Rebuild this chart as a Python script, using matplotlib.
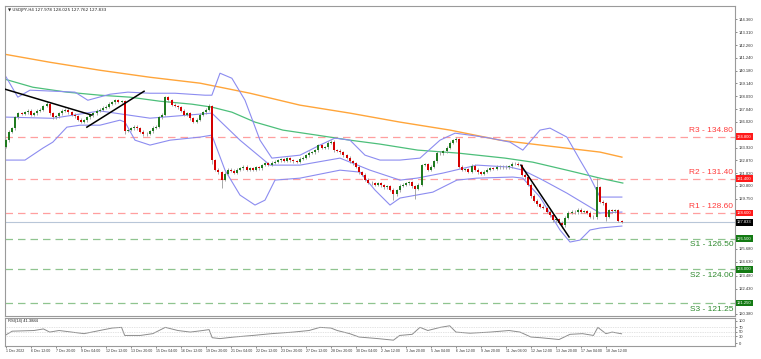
import numpy as np
import matplotlib.pyplot as plt
from matplotlib.transforms import blended_transform_factory

# USDJPY H4 closes, one per bar
closes = [
    134.5, 135.2, 135.5, 136.4, 136.7, 136.65, 136.8, 136.9,
    136.6, 136.7, 136.9, 137.0, 137.3, 137.5, 136.7, 136.4,
    136.45, 136.7, 136.9, 137.0, 136.8, 136.6, 136.45, 136.2,
    136.0, 136.15, 136.4, 136.55, 136.7, 136.9, 137.0, 137.15,
    137.25, 137.5, 137.6, 137.75, 137.65, 137.7, 135.3, 135.35,
    135.5, 135.6, 135.5, 135.2, 135.0, 135.05, 135.25, 135.55,
    135.6, 136.4, 136.6, 138.0, 137.75, 137.4, 137.3, 137.2,
    136.9, 136.6, 136.7, 136.3, 136.0, 136.2, 136.6, 136.8,
    137.0, 137.3, 132.9, 132.1, 131.9, 131.3, 131.8, 132.1,
    132.05, 131.85, 132.1, 132.25, 132.35, 132.1, 132.25, 132.1,
    132.3, 132.25, 132.5, 132.65, 132.5, 132.7, 132.75, 132.9,
    132.95, 132.85, 133.05, 132.9, 132.8, 132.75, 133.0, 133.1,
    133.3, 133.5, 133.55, 133.7, 134.1, 133.9, 133.95, 134.3,
    134.4, 133.7, 133.65, 133.55, 133.3, 133.1, 132.8, 132.65,
    132.35, 131.9, 131.7, 131.3, 131.05, 131.0, 130.9, 131.0,
    130.85, 130.7, 130.75, 130.5, 130.1, 130.45, 130.8, 130.9,
    131.0, 131.1, 130.75, 130.55, 130.9, 132.5, 132.55, 132.1,
    132.35, 132.8, 133.5, 133.45, 133.6, 133.9, 134.3, 134.5,
    134.6, 132.35, 132.1, 132.15, 131.95, 132.45, 132.1, 131.9,
    131.8, 131.95, 132.1, 132.25, 132.2, 132.35, 132.3, 132.35,
    132.3, 132.4, 132.6, 132.6, 132.5, 131.7, 131.5, 130.9,
    130.0, 129.6, 129.3, 129.1, 129.0, 128.7, 128.4, 128.0,
    128.1, 127.8, 127.6, 128.2, 128.6, 128.7, 128.65, 128.85,
    128.7, 128.75, 128.6, 128.3, 128.25, 130.7, 129.5, 129.4,
    128.3, 128.8, 128.75, 128.8, 127.978, 127.833,
]
first_open = 134.0
last_open = 127.978
wick = 0.12
highs_seen = {13: 137.7, 35: 137.9, 51: 138.15, 65: 137.45, 104: 134.55,
              144: 134.75, 189: 131.45, 197: 128.025}
lows_seen = {0: 133.9, 38: 135.0, 66: 132.6, 69: 130.6, 124: 129.65,
             131: 129.7, 168: 129.8, 178: 127.35, 192: 127.95, 197: 127.762}

# indicator lines read at a few bars: (bar, price)
ma_slow_bar = [-0.3, 14.1, 30.1, 46.1, 62.1, 78.1, 94.1, 110.1, 126.1, 142.1, 158.1, 174.1, 190.1, 197.1]
ma_slow = [141.51, 140.86, 140.21, 139.64, 139.16, 138.34, 137.37, 136.72, 135.99, 135.34, 134.52, 134.03, 133.55, 133.14]
ma_fast_bar = [-0.3, 8.6, 19.5, 30.1, 39.7, 49.3, 59.5, 65.9, 72.3, 79.7, 88.6, 99.5, 110.1, 119.7, 131.8, 144.6, 159.7, 168.6, 179.5, 190.1, 197.4]
ma_fast = [139.48, 138.83, 138.43, 138.18, 138.02, 137.69, 137.45, 137.21, 136.8, 135.99, 135.34, 134.93, 134.52, 134.2, 133.71, 133.47, 133.06, 132.73, 132.08, 131.43, 131.03]

bb_up_bar = [-0.3, 3.8, 7.7, 22.1, 26.2, 33.3, 39.0, 46.1, 54.1, 63.7, 65.9, 68.5, 72.3, 76.5, 81.3, 85.1, 94.1, 100.5, 105.3, 110.1, 114.9, 119.7, 126.1, 132.5, 138.9, 143.7, 148.5, 154.9, 161.3, 165.4, 170.9, 174.1, 179.5, 183.7, 186.9, 190.1, 197.1]
bb_up = [139.81, 138.02, 138.59, 138.43, 137.77, 138.26, 138.43, 138.34, 138.34, 138.18, 138.18, 139.97, 139.56, 137.77, 134.52, 133.06, 133.3, 134.12, 134.69, 134.52, 133.3, 132.9, 132.9, 133.06, 134.52, 135.09, 134.93, 134.69, 134.36, 133.71, 135.34, 135.5, 134.77, 132.9, 131.52, 129.89, 129.89]
bb_mid_bar = [-0.3, 15.0, 30.1, 46.1, 65.9, 74.9, 84.5, 94.1, 106.9, 116.5, 126.1, 131.5, 139.8, 150.7, 161.3, 165.4, 171.8, 179.5, 186.9, 190.1, 197.1]
bb_mid = [136.4, 136.3, 136.9, 136.31, 136.72, 134.52, 132.49, 132.49, 133.06, 132.08, 131.27, 131.43, 131.84, 132.49, 132.33, 132.08, 131.27, 130.21, 129.08, 128.59, 128.67]
bb_lo_bar = [-0.3, 6.1, 11.8, 15.0, 19.5, 23.7, 30.1, 36.5, 38.1, 41.3, 46.1, 52.5, 62.1, 65.9, 70.1, 74.9, 79.7, 82.9, 86.1, 94.1, 106.9, 113.3, 118.1, 122.9, 126.1, 136.6, 144.3, 150.7, 162.2, 165.4, 170.9, 177.3, 180.5, 183.7, 186.9, 190.1, 197.1]
bb_lo = [132.9, 132.9, 133.87, 134.36, 135.58, 135.74, 135.74, 136.15, 135.99, 134.52, 134.12, 134.52, 134.77, 134.93, 132.08, 130.05, 129.24, 129.64, 131.27, 131.43, 132.08, 131.92, 130.46, 129.24, 129.81, 130.29, 131.27, 131.43, 131.52, 131.43, 129.89, 127.21, 126.23, 126.39, 127.21, 127.37, 127.53]

# hand-drawn trend lines: ((bar, price), (bar, price))
trend_lines = [((-0.3, 138.67), (27.5, 136.56)),
               ((25.9, 135.58), (44.2, 138.5)),
               ((164.8, 132.49), (180.2, 126.64))]

resist = [("R3", 134.80), ("R2", 131.40), ("R1", 128.60)]
support = [("S1", 126.50), ("S2", 124.00), ("S3", 121.25)]
last_price = 127.833

price_ticks = [144.36, 143.31, 142.26, 141.24, 140.18, 139.14, 138.09, 137.04, 136.02,
               133.92, 132.87, 131.82, 130.80, 129.75, 125.68, 124.63, 123.48, 122.43, 120.38]

rsi_bar = [-0.3, 2, 9, 12, 14, 17, 21, 25, 30, 34, 37, 38, 43, 47, 51, 55, 59, 63, 65, 66,
           68.5, 73, 79, 85, 92, 97, 100.5, 104, 106, 110, 113, 119, 124, 126, 130, 132.5,
           135, 139, 142, 144, 148.5, 155, 161, 164.5, 168, 171, 174, 177, 180.5, 184.5,
           188, 189.4, 192, 194, 197]
rsi = [34, 53, 56, 63, 49, 56, 49, 42, 56, 67, 70, 34, 34, 42, 70, 56, 49, 56, 60, 24,
       20, 27, 34, 42, 49, 56, 70, 67, 56, 42, 27, 20, 13, 34, 39, 70,
       56, 70, 77, 49, 44, 49, 56, 49, 27, 24, 20, 16, 39, 42,
       34, 70, 42, 49, 41.39]

date_labels = ["1 Dec 2022", "6 Dec 12:00", "7 Dec 20:00", "9 Dec 04:00", "12 Dec 12:00",
               "13 Dec 20:00", "15 Dec 04:00", "16 Dec 12:00", "19 Dec 20:00", "21 Dec 04:00",
               "22 Dec 12:00", "23 Dec 20:00", "27 Dec 12:00", "28 Dec 20:00", "30 Dec 04:00",
               "2 Jan 12:00", "3 Jan 20:00", "5 Jan 04:00", "6 Jan 12:00", "9 Jan 20:00",
               "11 Jan 04:00", "12 Jan 12:00", "13 Jan 20:00", "17 Jan 04:00", "18 Jan 12:00"]

plt.rcParams['font.family'] = ['Liberation Sans', 'DejaVu Sans']

fig = plt.figure(figsize=(7.61, 3.59), dpi=100)
ax = fig.add_axes([5 / 761, 1 - 316 / 359, 730 / 761, 310 / 359])
ax_rsi = fig.add_axes([5 / 761, 1 - 346 / 359, 730 / 761, 28 / 359])

n = len(closes)
bars = np.arange(n)
c = np.array(closes)
o = np.concatenate([[first_open], c[:-1]])
o[-1] = last_open
hi = np.maximum(o, c) + wick
lo = np.minimum(o, c) - wick
for k, v in highs_seen.items():
    hi[k] = v
for k, v in lows_seen.items():
    lo[k] = v

up = c >= o
ax.vlines(bars, lo, hi, color='#9a9a9a', lw=0.6, zorder=3)
ax.bar(bars[up], (c - o)[up], bottom=o[up], width=0.65, color='#1f7a1f', zorder=4)
ax.bar(bars[~up], (c - o)[~up], bottom=o[~up], width=0.65, color='#d40000', zorder=4)

ax.plot(ma_slow_bar, ma_slow, color='#ffa53a', lw=1.0, zorder=2)
ax.plot(ma_fast_bar, ma_fast, color='#4cbf7a', lw=0.9, zorder=2)
for xs, ys in [(bb_up_bar, bb_up), (bb_mid_bar, bb_mid), (bb_lo_bar, bb_lo)]:
    ax.plot(xs, ys, color='#8c8cf0', lw=0.8, zorder=2)
for (x0, y0), (x1, y1) in trend_lines:
    ax.plot([x0, x1], [y0, y1], color='black', lw=1.1, zorder=5)

ax.axhline(last_price, color='#b8c6d8', lw=0.8, zorder=1)
tr = blended_transform_factory(ax.transAxes, ax.transData)
for name, lvl in resist:
    ax.axhline(lvl, color='#ff9f9f', lw=0.9, dashes=(6, 4), zorder=1)
    ax.text(0.9975, lvl + 0.2, f"{name} - {lvl:.2f}", transform=tr, ha='right', va='bottom',
            color='#ff3c3c', fontsize=6)
    ax.text(1.003, lvl, f"{lvl:.3f}", transform=tr, ha='left', va='center', color='white',
            fontsize=3, bbox=dict(boxstyle='square,pad=0.3', fc='#ff1a1a', ec='none'),
            clip_on=False)
for name, lvl in support:
    ax.axhline(lvl, color='#8fc48f', lw=0.9, dashes=(6, 4), zorder=1)
    ax.text(0.9975, lvl - 0.2, f"{name} - {lvl:.2f}", transform=tr, ha='right', va='top',
            color='#2f8a2f', fontsize=6)
    ax.text(1.003, lvl, f"{lvl:.3f}", transform=tr, ha='left', va='center', color='white',
            fontsize=3, bbox=dict(boxstyle='square,pad=0.3', fc='#137a13', ec='none'),
            clip_on=False)
ax.text(1.003, last_price, f"{last_price:.3f}", transform=tr, ha='left', va='center',
        color='white', fontsize=3, bbox=dict(boxstyle='square,pad=0.3', fc='black', ec='none'),
        clip_on=False)

ax.set_xlim(-0.3, 233.3)
ax.set_ylim(120.21, 145.44)
ax.yaxis.tick_right()
ax.set_yticks(price_ticks)
ax.set_yticklabels([f"{t:.3f}" for t in price_ticks])
ax.tick_params(axis='y', labelsize=3, length=1.5, width=0.4, pad=1, colors='#333333')
ax.set_xticks([])
ax.text(0.004, 0.993, "\u25bc USDJPY,H4 127.978 128.025 127.762 127.833", transform=ax.transAxes,
        ha='left', va='top', fontsize=3, color='#222222', family=['DejaVu Sans'])

ax_rsi.plot(rsi_bar, rsi, color='#8c8c8c', lw=0.7)
for lvl in (70, 50, 30):
    ax_rsi.axhline(lvl, color='#c8c8c8', lw=0.5, ls=(0, (1, 1.5)))
ax_rsi.set_xlim(-0.3, 233.3)
ax_rsi.set_ylim(-12.9, 111.6)
ax_rsi.yaxis.tick_right()
ax_rsi.set_yticks([100, 70, 50, 30, 0])
ax_rsi.tick_params(axis='y', labelsize=3, length=1.5, width=0.4, pad=1, colors='#333333')
ax_rsi.set_xticks(np.arange(0, 8 * len(date_labels), 8))
ax_rsi.set_xticklabels(date_labels, ha='left')
ax_rsi.tick_params(axis='x', labelsize=2.6, length=1.5, width=0.4, pad=1, colors='#333333')
ax_rsi.text(0.004, 0.97, "RSI(14) 41.3884", transform=ax_rsi.transAxes, ha='left', va='top',
            fontsize=3, color='#222222')

for a in (ax, ax_rsi):
    for s in a.spines.values():
        s.set_color('#9a9a9a')
        s.set_linewidth(0.8)

fig.savefig('out.png', dpi=100)
